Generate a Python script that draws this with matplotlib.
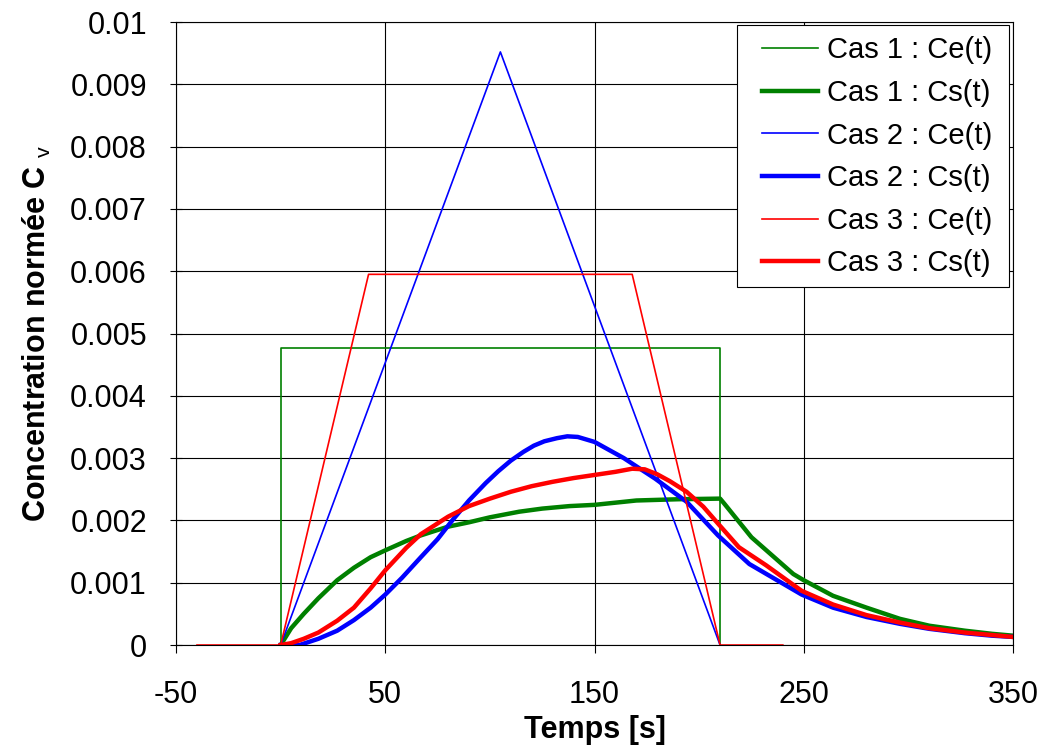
import matplotlib
matplotlib.use('Agg')
import matplotlib.pyplot as plt
from matplotlib.patches import Rectangle

plt.rcParams['font.family'] = ['Liberation Sans', 'DejaVu Sans']
plt.rcParams['mathtext.fontset'] = 'custom'
plt.rcParams['mathtext.rm'] = 'Liberation Sans'

# Entrees Ce(t)
t_ce1 = [0, 0, 210, 210]
c_ce1 = [0, 0.00476, 0.00476, 0]
t_ce2 = [0, 105, 210]
c_ce2 = [0, 0.00952, 0]
t_ce3 = [-40, 0, 42, 168, 210, 240]
c_ce3 = [0, 0, 0.00595, 0.00595, 0, 0]

# Sorties Cs(t)
t_cs1 = [0, 5, 11, 18, 27, 35, 43, 50, 60, 67, 80, 90, 100, 114, 125, 138, 150,
         170, 190, 210, 212, 225, 245, 250, 264, 280, 296, 310, 327, 340, 350]
c_cs1 = [0, 0.00027, 0.0005, 0.00075, 0.00104, 0.00124, 0.00141, 0.00152, 0.00167,
         0.00176, 0.0019, 0.00197, 0.00205, 0.00214, 0.00219, 0.00223, 0.00225,
         0.00232, 0.00234, 0.00235, 0.00227, 0.00173, 0.00114, 0.00104, 0.00079,
         0.0006, 0.00042, 0.00031, 0.00023, 0.00018, 0.00015]

t_cs2 = [0, 9, 18, 27, 35, 43, 50, 58, 67, 75, 82, 90, 98, 104, 110, 116, 121, 126,
         132, 137, 142, 150, 164, 179, 194, 209, 224, 249, 264, 280, 296, 310, 327,
         340, 350]
c_cs2 = [0, 0, 0.0001, 0.00023, 0.0004, 0.0006, 0.00081, 0.00108, 0.00141, 0.0017,
         0.002, 0.00232, 0.0026, 0.00279, 0.00296, 0.0031, 0.0032, 0.00327, 0.00332,
         0.00335, 0.00334, 0.00326, 0.003, 0.00267, 0.0023, 0.00176, 0.0013, 0.00081,
         0.0006, 0.00045, 0.00034, 0.00026, 0.00019, 0.00015, 0.00013]

t_cs3 = [0, 5, 11, 18, 27, 35, 43, 50, 60, 67, 80, 90, 100, 110, 120, 130, 140, 150,
         160, 168, 174, 180, 186, 194, 202, 209, 219, 232, 249, 264, 280, 296, 310,
         327, 340, 350]
c_cs3 = [0, 0.00003, 0.0001, 0.0002, 0.00039, 0.0006, 0.00091, 0.0012, 0.00156,
         0.00178, 0.00206, 0.00223, 0.00235, 0.00246, 0.00255, 0.00262, 0.00268,
         0.00273, 0.00278, 0.00283, 0.00282, 0.00274, 0.00263, 0.00246, 0.00222,
         0.00195, 0.00157, 0.00128, 0.00087, 0.00065, 0.00048, 0.00036, 0.00027,
         0.0002, 0.00016, 0.00013]

xticks = [-50, 50, 150, 250, 350]
yticks = [0, 0.001, 0.002, 0.003, 0.004, 0.005, 0.006, 0.007, 0.008, 0.009, 0.01]
ytick_labels = ['0', '0.001', '0.002', '0.003', '0.004', '0.005', '0.006',
                '0.007', '0.008', '0.009', '0.01']

GREEN = '#008000'
BLUE = '#0000FF'
RED = '#FF0000'
THIN = 1.2
THICK = 3.2

W, H = 1048, 751
fig = plt.figure(figsize=(W / 100, H / 100), dpi=100)
ax = fig.add_axes([0.168, 0.1411, 0.7986, 0.8296])

ax.plot(t_ce1, c_ce1, color=GREEN, lw=THIN, label='Cas 1 : Ce(t)')
ax.plot(t_cs1, c_cs1, color=GREEN, lw=THICK, label='Cas 1 : Cs(t)')
ax.plot(t_ce2, c_ce2, color=BLUE, lw=THIN, label='Cas 2 : Ce(t)')
ax.plot(t_cs2, c_cs2, color=BLUE, lw=THICK, label='Cas 2 : Cs(t)')
ax.plot(t_ce3, c_ce3, color=RED, lw=THIN, label='Cas 3 : Ce(t)')
ax.plot(t_cs3, c_cs3, color=RED, lw=THICK, label='Cas 3 : Cs(t)')

ax.set_xlim(-50, 350)
ax.set_ylim(0, 0.01)
ax.set_xticks(xticks)
ax.set_xticklabels([str(v) for v in xticks])
ax.set_yticks(yticks)
ax.set_yticklabels(ytick_labels)
ax.grid(True, color='black', lw=0.8)
ax.set_axisbelow(True)

ax.tick_params(axis='x', direction='out', length=6, width=0.8, pad=19, labelsize=22)
ax.tick_params(axis='y', direction='inout', length=8, width=0.8, pad=17, labelsize=22)
for s in ax.spines.values():
    s.set_color('black')
    s.set_linewidth(0.8)

ax.set_xlabel('Temps [s]', fontsize=22, fontweight='bold', labelpad=4)
ax.set_ylabel(r'Concentration normée C $_{\mathrm{v}}$', fontsize=22,
              fontweight='bold', labelpad=12)

# legend box (wider left margin than matplotlib's uniform padding)
box = Rectangle((737 / W, 1 - 287 / H), (1009 - 737) / W, (287 - 25) / H,
                transform=fig.transFigure, facecolor='white', edgecolor='black',
                lw=0.8, zorder=4.9, clip_on=False)
ax.add_patch(box)
leg = ax.legend(loc='upper left', bbox_to_anchor=(762 / W, 1 - 36.5 / H),
                bbox_transform=fig.transFigure, fontsize=21, frameon=False,
                borderaxespad=0, borderpad=0, handlelength=1.93,
                handletextpad=0.31, labelspacing=0.5)
leg.set_zorder(5)

fig.savefig('out.png', dpi=100)
